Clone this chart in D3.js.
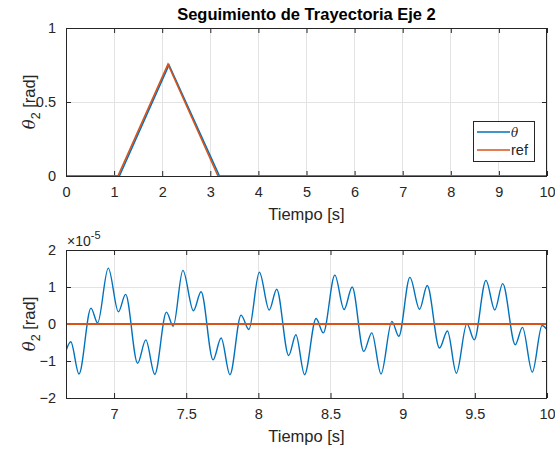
<!DOCTYPE html>
<html><head><meta charset="utf-8">
<script src="https://cdn.jsdelivr.net/npm/d3@7"></script>
<style>
body{margin:0;background:#fff;}
svg{display:block;font-family:"Liberation Sans",Arial,sans-serif;}
</style></head>
<body>
<svg id="c" width="555" height="453"></svg>
<script>
// ---- data ----
const title = "Seguimiento de Trayectoria Eje 2";
const xLabel = "Tiempo [s]";
const legendLabels = ["\u03B8", "ref"];
// top panel
const topXTicks = [0,1,2,3,4,5,6,7,8,9,10];
const topYTicks = [0,0.5,1];
const topYTickLabels = ["0","0.5","1"];
const refT   = [0, 1.08, 2.12, 3.16, 10];
const refV   = [0, 0,    0.755, 0,   0];
const thetaT = [0, 1.11, 2.14, 3.19, 10];
const thetaV = [0, 0,    0.75, 0,    0];
// bottom panel (values in units of 1e-5 rad)
const botXTicks = [7,7.5,8,8.5,9,9.5,10];
const botXTickLabels = ["7","7.5","8","8.5","9","9.5","10"];
const botYTicks = [-2,-1,0,1,2];
const errT = [6.667,6.70,6.757,6.84,6.886,6.96,7.03,7.08,7.163,7.22,7.282,7.363,7.41,7.477,7.55,7.603,7.686,7.742,7.803,7.88,7.934,8.007,8.075,8.127,8.21,8.26,8.32,8.40,8.45,8.53,8.594,8.65,8.73,8.786,8.85,8.925,8.973,9.05,9.117,9.17,9.255,9.31,9.372,9.445,9.496,9.577,9.638,9.693,9.78,9.83,9.898,9.966,10];
const errV = [-0.72,-0.48,-1.35,0.43,0.03,1.51,0.33,0.80,-1.06,-0.43,-1.36,0.32,-0.06,1.45,0.36,0.87,-0.97,-0.38,-1.37,0.24,-0.15,1.40,0.38,0.94,-0.85,-0.29,-1.37,0.15,-0.24,1.32,0.39,1.00,-0.74,-0.24,-1.35,0.07,-0.33,1.26,0.40,1.04,-0.65,-0.19,-1.33,0.01,-0.43,1.18,0.38,1.09,-0.56,-0.09,-1.30,-0.04,-0.15];
const errRefT = [6.667, 10];
const errRefV = [0, 0];

// ---- styles ----
const BLUE = "#0072BD", ORANGE = "#D95319", AX = "#262626", GRID = "#e3e3e3";
const svg = d3.select("#c");
const L = 66, R = 547;

function panel(cfg){
  const g = svg.append("g");
  const x = d3.scaleLinear().domain(cfg.xd).range([L, R]);
  const y = d3.scaleLinear().domain(cfg.yd).range([cfg.bot, cfg.top]);
  // grid
  g.selectAll(".gx").data(cfg.xt).enter().append("line")
    .attr("x1", d=>x(d)).attr("x2", d=>x(d)).attr("y1", cfg.top).attr("y2", cfg.bot)
    .attr("stroke", GRID).attr("stroke-width", 1).attr("shape-rendering","crispEdges");
  g.selectAll(".gy").data(cfg.yt).enter().append("line")
    .attr("x1", L).attr("x2", R).attr("y1", d=>y(d)).attr("y2", d=>y(d))
    .attr("stroke", GRID).attr("stroke-width", 1).attr("shape-rendering","crispEdges");
  // axes
  const xa = d3.axisBottom(x).tickValues(cfg.xt).tickSize(-5).tickPadding(11)
    .tickFormat((d,i)=>cfg.xtl ? cfg.xtl[i] : d3.format("")(d));
  const ya = d3.axisLeft(y).tickValues(cfg.yt).tickSize(-5).tickPadding(10)
    .tickFormat((d,i)=>cfg.ytl ? cfg.ytl[i] : d3.format("")(d));
  const xat = d3.axisTop(x).tickValues(cfg.xt).tickSize(-5).tickFormat("");
  const yar = d3.axisRight(y).tickValues(cfg.yt).tickSize(-5).tickFormat("");
  const style = s => { s.select(".domain").remove(); s.selectAll("line").attr("stroke", AX);
    s.selectAll("text").attr("fill", AX).attr("font-size", 14.5).attr("font-family","Liberation Sans, Arial, sans-serif"); };
  g.append("g").attr("transform",`translate(0,${cfg.bot})`).call(xa).call(style);
  g.append("g").attr("transform",`translate(${L},0)`).call(ya).call(style);
  g.append("g").attr("transform",`translate(0,${cfg.top})`).call(xat).call(style);
  g.append("g").attr("transform",`translate(${R},0)`).call(yar).call(style);
  // data
  const clipId = "clip" + cfg.top;
  svg.append("clipPath").attr("id", clipId).append("rect")
    .attr("x", L).attr("y", cfg.top-2).attr("width", R-L).attr("height", cfg.bot-cfg.top+4);
  cfg.series.forEach(s=>{
    const pts = s.t.map((t,i)=>[t, s.v[i]]);
    g.append("path").datum(pts).attr("clip-path", `url(#${clipId})`)
      .attr("d", d3.line().x(d=>x(d[0])).y(d=>y(d[1])).curve(s.curve))
      .attr("fill","none").attr("stroke", s.color).attr("stroke-width", s.w);
  });
  // box
  g.append("rect").attr("x", L+0.5).attr("y", cfg.top+0.5).attr("width", R-L-1).attr("height", cfg.bot-cfg.top)
    .attr("fill","none").attr("stroke", AX).attr("stroke-width", 1).attr("shape-rendering","crispEdges");
  // x label
  g.append("text").attr("x", (L+R)/2).attr("y", cfg.bot+44).attr("text-anchor","middle")
    .attr("font-size", 16.5).attr("fill", AX).text(xLabel);
  // y label
  const yl = g.append("text").attr("transform", `translate(35,${(cfg.top+cfg.bot)/2}) rotate(-90)`)
    .attr("text-anchor","middle").attr("font-size", 16.5).attr("fill", AX);
  yl.append("tspan").attr("font-family","DejaVu Serif, serif").attr("font-style","italic").text("\u03B8");
  yl.append("tspan").attr("font-size", 12.5).attr("dy", 5).text("2");
  yl.append("tspan").attr("dy", -5).text(" [rad]");
  return {g, x, y};
}

// title
svg.append("text").attr("x", (L+R)/2).attr("y", 20).attr("text-anchor","middle")
  .attr("font-size", 16.5).attr("font-weight","bold").attr("fill", "#000").text(title);

const topPanel = panel({xd:[0,10], yd:[0,1], top:28, bot:176, xt:topXTicks, yt:topYTicks, ytl:topYTickLabels,
  series:[{t:thetaT, v:thetaV, color:BLUE, w:1.6, curve:d3.curveLinear},
          {t:refT, v:refV, color:ORANGE, w:1.6, curve:d3.curveLinear}]});

const botPanel = panel({xd:[6.667,10], yd:[-2,2], top:250, bot:398, xt:botXTicks, xtl:botXTickLabels, yt:botYTicks,
  series:[{t:errT, v:errV, color:BLUE, w:1.4, curve:d3.curveMonotoneX},
          {t:errRefT, v:errRefV, color:ORANGE, w:1.9, curve:d3.curveLinear}]});

// exponent label
const ex = svg.append("text").attr("x", 67).attr("y", 246).attr("font-size", 14).attr("fill", AX);
ex.append("tspan").text("\u00D710");
ex.append("tspan").attr("dy", -7).attr("font-size", 11).text("-5");

// legend
const lg = svg.append("g");
lg.append("rect").attr("x", 473.5).attr("y", 121.5).attr("width", 61).attr("height", 40)
  .attr("fill","#fff").attr("stroke", AX).attr("stroke-width", 1);
const legendColors = [BLUE, ORANGE];
legendLabels.forEach((lab,i)=>{
  const yy = 132 + i*18;
  lg.append("line").attr("x1", 477).attr("x2", 510).attr("y1", yy).attr("y2", yy)
    .attr("stroke", legendColors[i]).attr("stroke-width", 1.6);
  const t = lg.append("text").attr("x", 511).attr("y", yy+5).attr("font-size", 14.5).attr("fill", AX).text(lab);
  if(i===0) t.attr("font-family","DejaVu Serif, serif").attr("font-style","italic").attr("font-size", 12);
});
</script>
</body></html>
